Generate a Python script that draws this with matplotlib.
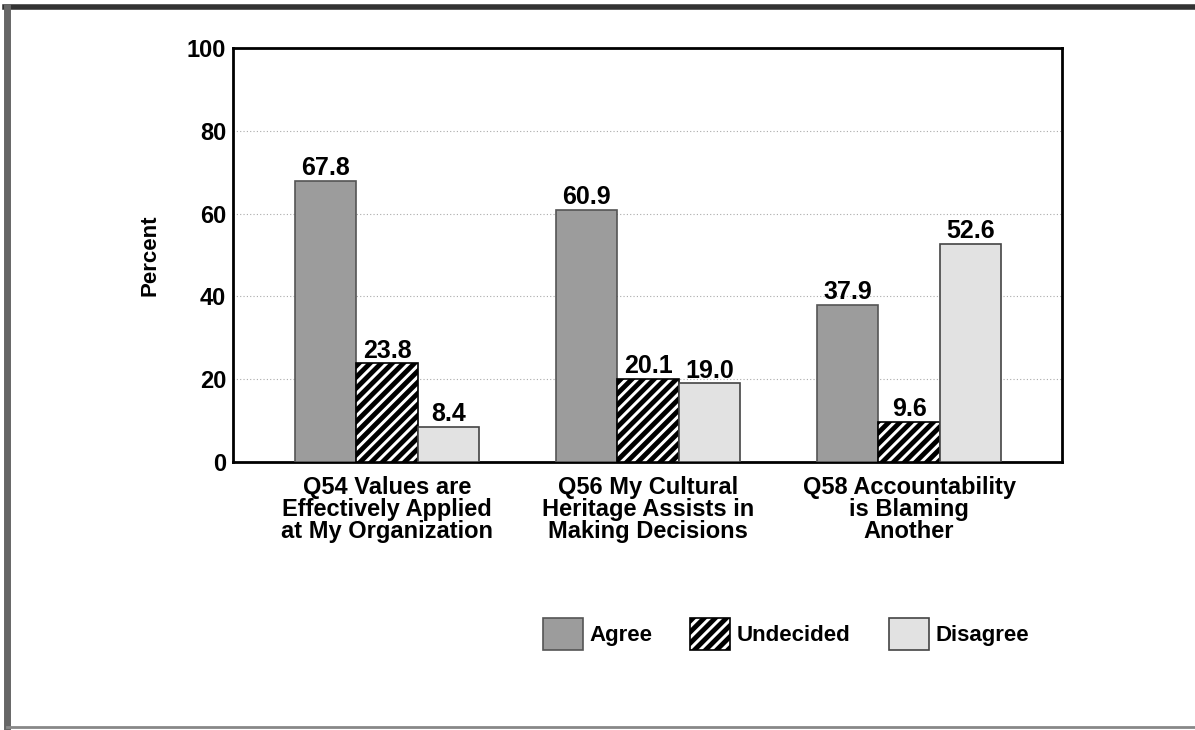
import matplotlib
matplotlib.use("Agg")
import matplotlib.pyplot as plt
from matplotlib.lines import Line2D
import numpy as np

plt.rcParams['font.family'] = ['Liberation Sans', 'DejaVu Sans']
plt.rcParams['font.weight'] = 'bold'
plt.rcParams['axes.labelweight'] = 'bold'
plt.rcParams['hatch.linewidth'] = 3.5

categories = ["Q54 Values are\nEffectively Applied\nat My Organization",
              "Q56 My Cultural\nHeritage Assists in\nMaking Decisions",
              "Q58 Accountability\nis Blaming\nAnother"]
series = ["Agree", "Undecided", "Disagree"]
agree = [67.8, 60.9, 37.9]
undecided = [23.8, 20.1, 9.6]
disagree = [8.4, 19.0, 52.6]
values = [agree, undecided, disagree]

fig = plt.figure(figsize=(11.95, 7.3), dpi=100)
ax = fig.add_axes([233 / 1195, 1 - 462 / 730, 829 / 1195, 414 / 730])

# page border (top, left, bottom edges of the scanned frame)
W, H = 1195, 730
for xs, ys, c, lw in [((5, W), (7, 7), '#333333', 4),
                      ((7, 7), (7, 727), '#666666', 5),
                      ((7, W), (727, 727), '#888888', 2)]:
    fig.add_artist(Line2D([x / W for x in xs], [1 - y / H for y in ys],
                          transform=fig.transFigure, color=c, linewidth=lw))

x = np.arange(len(categories))
w = 0.235
styles = [dict(facecolor='#9c9c9c', hatch=None, edgecolor='#555555'),
          dict(facecolor='white', hatch='///', edgecolor='black'),
          dict(facecolor='#e2e2e2', hatch=None, edgecolor='#444444')]

for i, (name, vals) in enumerate(zip(series, values)):
    bars = ax.bar(x + (i - 1) * w, vals, w, label=name,
                  linewidth=1.2, zorder=3, **styles[i])
    for b, v in zip(bars, vals):
        ax.text(b.get_x() + b.get_width() / 2, v + 0.2, f"{v:.1f}",
                ha='center', va='bottom', fontsize=18, zorder=4)

ax.set_xlim(-0.59, 2.586)
ax.set_ylim(0, 100)
ax.set_yticks([0, 20, 40, 60, 80, 100])
ax.tick_params(axis='y', length=0, labelsize=17, pad=5)
ax.tick_params(axis='x', length=0, labelsize=17, pad=10)
ax.set_xticks(x)
ax.set_xticklabels(categories, linespacing=0.95)
ax.set_ylabel("Percent", fontsize=16, labelpad=19)
ax.yaxis.grid(True, linestyle=(0, (1, 2)), color='#aaaaaa', linewidth=0.8, zorder=0)
for s in ax.spines.values():
    s.set_linewidth(2.0)

ax.legend(loc='center left', bbox_to_anchor=(543 / W, 1 - 634 / H),
          bbox_transform=fig.transFigure, ncol=3, frameon=False,
          fontsize=16, handlelength=1.8, handleheight=1.8, columnspacing=1.7,
          handletextpad=0.3, borderpad=0, borderaxespad=0)

fig.savefig("out.png", dpi=100)
